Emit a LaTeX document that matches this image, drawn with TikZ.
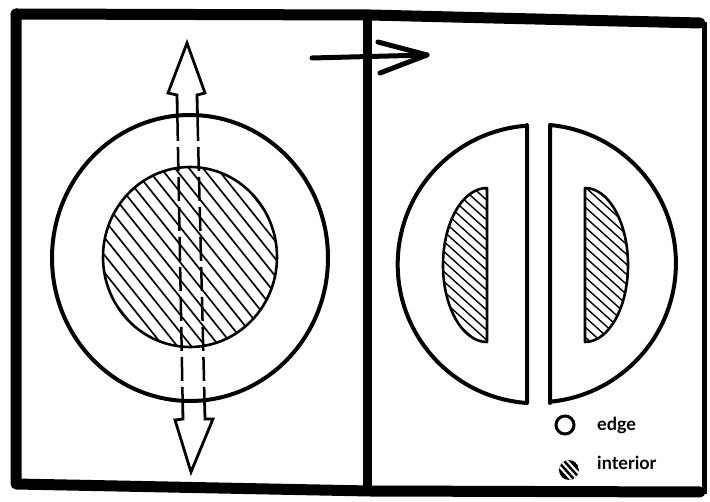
\documentclass[tikz,border=0pt]{standalone}
\usepackage{fontspec}
\setsansfont{Lato}
\usepackage{tikz}
\usetikzlibrary{arrows.meta,positioning}

\begin{document}
\begin{tikzpicture}[
  x=1pt,y=-1pt,
  frame/.style={line width=11pt,line cap=round,line join=round},
  rim/.style={line width=4pt,line join=round},
  core/.style={line width=2.6pt,line join=round},
  hatch/.style={line width=1.7pt},
  finehatch/.style={line width=1.4pt},
  cut/.style={line width=2.5pt,dash pattern=on 24pt off 6pt},
  shaft/.style={line width=2.8pt,line join=miter},
  legtext/.style={font=\sffamily\bfseries\fontsize{18}{20}\selectfont,anchor=base west,inner sep=0pt}
]
  \useasboundingbox (0,0) rectangle (710,502);

  % Frame and divider
  \draw[frame] (16,14) -- (370,15) -- (700,23);
  \draw[frame] (16,14) -- (16,484) -- (370,491) -- (700,492);
  \draw[line width=5pt] (704,22) -- (704,494);
  \draw[line width=9pt] (367,15) -- (367,490);

  % Left: whole body
  \draw[rim] (190,258) ellipse[x radius=138,y radius=143];
  \begin{scope}
    \clip (190,257) ellipse[x radius=87,y radius=90];
    \foreach \k in {-16,...,16}
      \draw[hatch,xshift=\k*14] (70,107) -- (310,407);
  \end{scope}
  \draw[core] (190,257) ellipse[x radius=87,y radius=90];

  % Cutting line with its two arrows
  \draw[cut] (177.4,117) -- (182.6,400);
  \draw[cut] (197.5,117) -- (204.5,400);
  \draw[shaft] (177.4,117) -- (177,95) -- (168,93) -- (187,43) -- (205,93) -- (197,95) -- (197.5,117);
  \draw[shaft] (182.6,400) -- (183,419) -- (175,420) -- (191,472) -- (213,419) -- (205,419) -- (204.5,400);

  % Step arrow
  \coordinate (from) at (312,58);
  \coordinate (to) at (427,55);
  \draw[line width=5pt,line cap=round] (from) -- (to);
  \draw[line width=5pt,line cap=round,line join=round] (378,42) -- (to) -- (380,73);

  % Right: the two halves
  \draw[rim] (527,125) -- (527,403) arc[start angle=94,end angle=266,radius=139] -- cycle;
  \draw[rim] (550,403) -- (550,125) arc[start angle=-84.6,end angle=84.6,radius=139] -- cycle;

  \begin{scope}
    \clip (487,188) -- (487,342) arc[start angle=90,end angle=270,x radius=44,y radius=77] -- cycle;
    \foreach \k in {-14,...,14}
      \draw[finehatch,yshift=\k*10] (370,175) -- (570,355);
  \end{scope}
  \draw[core] (487,188) -- (487,342) arc[start angle=90,end angle=270,x radius=44,y radius=77] -- cycle;

  \begin{scope}
    \clip (585,342) -- (585,188) arc[start angle=-90,end angle=90,x radius=43,y radius=77] -- cycle;
    \foreach \k in {-14,...,14}
      \draw[finehatch,yshift=\k*10] (505,175) -- (705,355);
  \end{scope}
  \draw[core] (585,342) -- (585,188) arc[start angle=-90,end angle=90,x radius=43,y radius=77] -- cycle;

  % Legend
  \draw[line width=3pt] (565,425) circle[radius=9];
  \begin{scope}
    \clip (569,470) circle[radius=10];
    \fill (569,470) circle[radius=10];
    \foreach \k in {-1,0,1}
      \draw[white,line width=2pt,xshift=\k*6.5] (560,460) -- (578,480);
  \end{scope}
  \node[legtext] (edgetxt) at (597,431) {edge};
  \node[legtext] (inttxt) at (597,470) {interior};
\end{tikzpicture}
\end{document}
